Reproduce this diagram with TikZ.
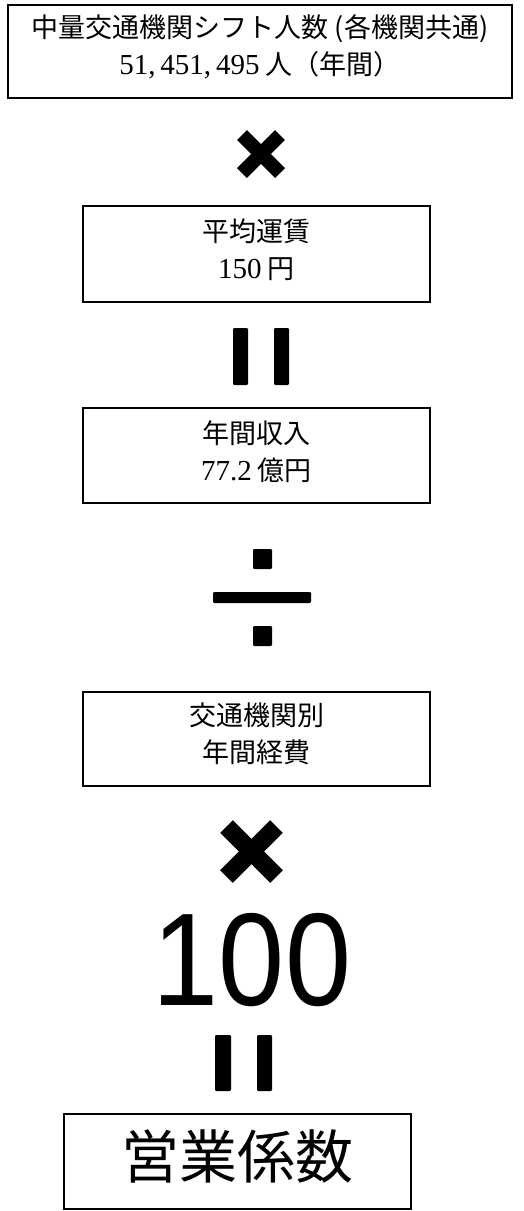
\documentclass[tikz,border=0pt]{standalone}
\usepackage{fontspec}
\usetikzlibrary{calc}
\setmainfont{Liberation Serif}
\newfontfamily\cjk{Noto Sans CJK JP}
\newfontfamily\arialf{Liberation Sans}
\tikzset{
  box/.style={draw=black, line width=1.6pt, rectangle, inner sep=0pt},
  boxtext/.style={inner sep=0pt, align=center, font=\cjk\fontsize{27}{37}\selectfont},
  sym/.style={fill=black, rounded corners=1.2pt},
  crossline/.style={line cap=butt, draw=black}
}
\newcommand{\numf}[1]{{\rmfamily\fontsize{29}{37}\selectfont #1}}
\begin{document}
\begin{tikzpicture}[x=1pt, y=-1pt]
\useasboundingbox (0,0) rectangle (524,1211);
% boxes
\node[box, line width=2.5pt, minimum width=504pt, minimum height=93pt] (b1) at (260,51.5) {};
\node[boxtext] (t1) at ($(b1.center)+(0,-4.5)$)
  {中量交通機関シフト人数 (各機関共通)\\\numf{51,\,451,\,495} 人（年間）};
\node[box, minimum width=347pt, minimum height=96pt] (b2) at (256.5,254) {};
\node[boxtext] (t2) at ($(b2.center)+(0,-4)$) {平均運賃\\\numf{150} 円};
\node[box, minimum width=347pt, minimum height=95pt] (b3) at (256.5,455.5) {};
\node[boxtext] (t3) at ($(b3.center)+(0,-4)$) {年間収入\\\numf{77.2} 億円};
\node[box, minimum width=347pt, minimum height=94pt] (b4) at (256.5,739) {};
\node[boxtext] (t4) at ($(b4.center)+(0,-5)$) {交通機関別\\年間経費};
\node[box, minimum width=347pt, minimum height=95pt] (b5) at (237.5,1161.5) {};
\node[boxtext, font=\cjk\fontsize{58}{60}\selectfont] (t5) at ($(b5.center)+(0,-5)$) {営業係数};
% multiply 1
\coordinate (m1) at (261,154);
\draw[crossline, line width=14pt] ($(m1)+(-19,-19)$) -- ($(m1)+(19,19)$);
\draw[crossline, line width=14pt] ($(m1)+(-19,19)$) -- ($(m1)+(19,-19)$);
% equals 1
\fill[sym] (233,328) rectangle (248,385);
\fill[sym] (274,328) rectangle (289,385);
% divide
\fill[sym] (253,549) rectangle (272,569);
\fill[sym] (213,592) rectangle (311,603);
\fill[sym] (253,626) rectangle (272,646);
% multiply 2
\coordinate (m2) at (251.5,851.5);
\draw[crossline, line width=18pt] ($(m2)+(-25,-25)$) -- ($(m2)+(25,25)$);
\draw[crossline, line width=18pt] ($(m2)+(-25,25)$) -- ($(m2)+(25,-25)$);
% 100
\node[font=\arialf\fontsize{132}{132}\selectfont, inner sep=0pt] (hundred) at (252,960) {\scalebox{0.9}[1]{100}};
% equals 2
\fill[sym] (215,1035) rectangle (231,1091);
\fill[sym] (257,1035) rectangle (272,1091);
\end{tikzpicture}
\end{document}
